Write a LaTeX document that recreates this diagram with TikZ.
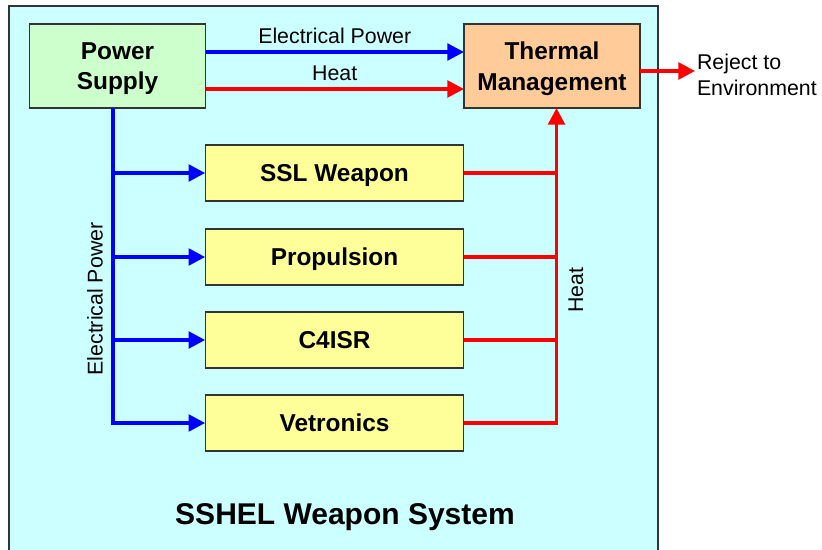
\documentclass[tikz,border=0pt]{standalone}
\usepackage{fontspec}
\setmainfont{Liberation Sans}
\usetikzlibrary{arrows.meta}
\definecolor{syscyan}{HTML}{CCFFFF}
\definecolor{psgreen}{HTML}{CCFFCC}
\definecolor{tmorange}{HTML}{FFCC99}
\definecolor{subyellow}{HTML}{FFFF99}
\definecolor{boxline}{HTML}{333333}
\begin{document}
\begin{tikzpicture}[y=0.75pt, x=0.75pt, yscale=-1, xscale=1, inner sep=0pt, outer sep=0pt,
  box/.style={draw=boxline, line width=0.8pt, align=center, text depth=-2pt, font=\fontsize{18.3}{21}\selectfont\bfseries},
  topbox/.style={box, text depth=-5pt, minimum width=132pt, minimum height=63pt},
  subbox/.style={box, fill=subyellow, minimum width=194pt, minimum height=42pt},
  elec/.style={draw=blue, line width=2.7pt, -{Triangle[length=12.5pt,width=12.5pt]}},
  elecbus/.style={draw=blue, line width=2.7pt},
  heat/.style={draw=red, line width=2.7pt, -{Triangle[length=12.5pt,width=12.5pt]}},
  heatbus/.style={draw=red, line width=2.7pt},
  lbl/.style={font=\fontsize{16}{19}\selectfont}]
\useasboundingbox (0,0) rectangle (822,550);
% system frame
\path[fill=syscyan, draw=boxline, line width=0.8pt] (9,6) rectangle (658,580);

\node[topbox, fill=psgreen] (ps) at (117.5,66) {Power\\[2pt]Supply};
\node[topbox, fill=tmorange] (tm) at (552,66) {Thermal\\[2pt]Management};

\node[subbox] (ssl) at (334.5,173) {SSL Weapon};
\node[subbox] (prop) at (334.5,257) {Propulsion};
\node[subbox] (c4) at (334.5,340) {C4ISR};
\node[subbox] (vet) at (334.5,423) {Vetronics};

\coordinate (bus) at (113,108);
\coordinate (sink) at (556.5,108);

% power supply to thermal management
\draw[elec] ([yshift=-10.5pt]ps.east) -- node[lbl, above=6pt] {Electrical Power} ([yshift=-10.5pt]tm.west);
\draw[heat] ([yshift=17.25pt]ps.east) -- node[lbl, above=6pt] {Heat} ([yshift=17.25pt]tm.west);

% electrical power bus
\draw[elec] (bus) |- (vet.west);
\foreach \sub in {ssl,prop,c4}
  \draw[elec] (bus |- \sub.west) -- (\sub.west);
\node[lbl, rotate=90] (eplbl) at (95,299) {Electrical Power};

% heat collection
\draw[heat] (vet.east) -| (sink);
\foreach \sub in {ssl,prop,c4}
  \draw[heatbus] (\sub.east) -- (\sub.east -| sink);
\node[lbl, rotate=90] (htlbl) at (576,290) {Heat};

\coordinate (env) at (695,71);
\draw[heat] (tm.east |- env) -- (env);
\node[lbl, anchor=west, align=left] (rej) at (697,75) {Reject to\\Environment};

\node[font=\fontsize{22.5}{26}\selectfont\bfseries] (sys) at (345,517) {SSHEL Weapon System};
\end{tikzpicture}
\end{document}
